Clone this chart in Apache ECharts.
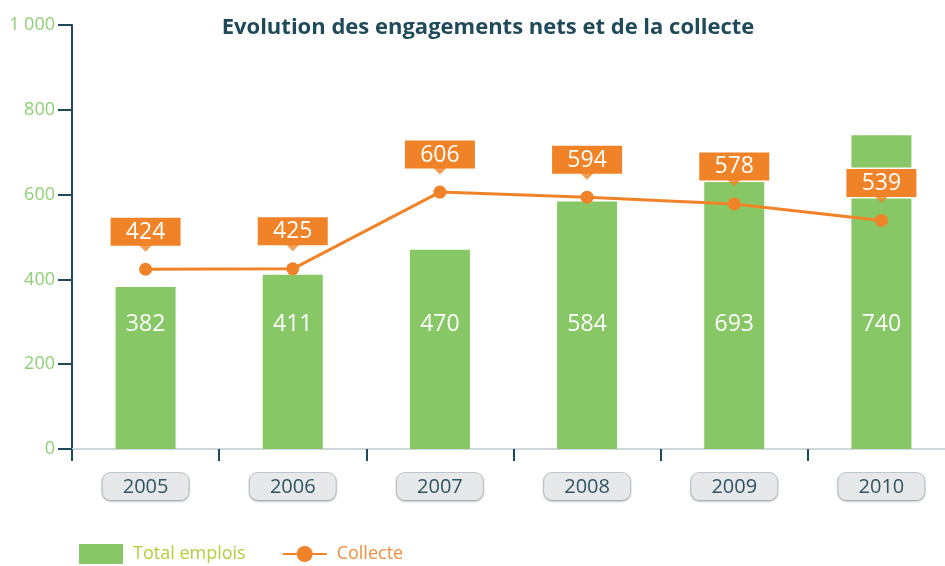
<!DOCTYPE html>
<html>
<head>
<meta charset="utf-8">
<script src="https://cdn.jsdelivr.net/npm/echarts@6/dist/echarts.min.js"></script>
<style>
  html, body { margin: 0; padding: 0; background: #fff; overflow: hidden; }
  /* le graphique d'origine est coupé à droite : zone un peu plus large */
  #main { width: 955px; height: 566px; }
</style>
</head>
<body>
<div id="main"></div>
<script>
// données
var years = ['2005', '2006', '2007', '2008', '2009', '2010'];
var totalEmplois = [382, 411, 470, 584, 693, 740];
var collecte = [424, 425, 606, 594, 578, 539];

var GREEN = '#88c766';
var ORANGE = '#f08327';
var DARK = '#1f4a5a';
var FONT = 'Open Sans';

var chart = echarts.init(document.getElementById('main'));

var option = {
  animation: false,
  title: {
    text: 'Evolution des engagements nets et de la collecte',
    left: 483,
    textAlign: 'center',
    top: 12,
    textStyle: { color: DARK, fontSize: 22, fontWeight: 'bold', fontFamily: FONT }
  },
  legend: {
    left: 74,
    top: 539,
    itemWidth: 44,
    itemHeight: 20,
    itemGap: 36,
    textStyle: { fontSize: 18, fontFamily: FONT, padding: [0, 0, 0, 5] },
    data: [
      { name: 'Total emplois', icon: 'rect', textStyle: { color: '#b2cf3e' } },
      { name: 'Collecte', textStyle: { color: '#f28d40' } }
    ]
  },
  grid: { left: 72, right: 0, top: 25, bottom: 117 },
  xAxis: {
    type: 'category',
    data: years,
    axisLine: { lineStyle: { color: '#cdd7dc', width: 2 } },
    axisTick: { show: true, length: 12, lineStyle: { color: DARK, width: 2 } },
    axisLabel: {
      margin: 24,
      color: '#2f5563',
      fontSize: 20,
      fontFamily: FONT,
      backgroundColor: '#e6e8ea',
      borderColor: '#c2c7cc',
      borderWidth: 1,
      borderRadius: 8,
      width: 86,
      align: 'center',
      padding: [4, 0, 3, 0],
      shadowColor: 'rgba(0,0,0,0.18)',
      shadowBlur: 2,
      shadowOffsetY: 1
    }
  },
  yAxis: {
    type: 'value',
    min: 0,
    max: 1000,
    interval: 200,
    splitLine: { show: false },
    axisLine: { show: true, lineStyle: { color: DARK, width: 2 } },
    axisTick: { show: true, length: 14, lineStyle: { color: DARK, width: 2 } },
    axisLabel: {
      margin: 17,
      color: '#8fcf76',
      fontSize: 18,
      fontFamily: FONT,
      formatter: function (v) { return v === 1000 ? '1 000' : String(v); }
    }
  },
  series: [
    {
      name: 'Total emplois',
      type: 'bar',
      data: totalEmplois,
      barWidth: 60,
      itemStyle: { color: GREEN },
      label: {
        show: true,
        position: 'insideBottom',
        distance: 113,
        color: '#fff',
        fontSize: 23,
        fontFamily: FONT
      },
      z: 1
    },
    {
      name: 'Collecte',
      type: 'line',
      data: collecte,
      symbol: 'circle',
      symbolSize: 13,
      lineStyle: { color: ORANGE, width: 3 },
      itemStyle: { color: ORANGE },
      label: {
        show: true,
        position: 'top',
        distance: 17,
        color: '#fff',
        fontSize: 23,
        lineHeight: 25,
        fontFamily: FONT,
        backgroundColor: ORANGE,
        borderColor: '#fff',
        borderWidth: 1.5,
        width: 68,
        align: 'center',
        padding: [2, 1, 1, 1]
      },
      z: 4
    },
    {
      // pointe des étiquettes
      name: 'pointer',
      type: 'scatter',
      data: collecte,
      symbol: 'path://M0,0L14,0L7,7Z',
      symbolSize: [14, 7],
      symbolOffset: [0, -21],
      itemStyle: { color: ORANGE },
      silent: true,
      z: 5
    }
  ]
};

chart.setOption(option);
</script>
</body>
</html>
